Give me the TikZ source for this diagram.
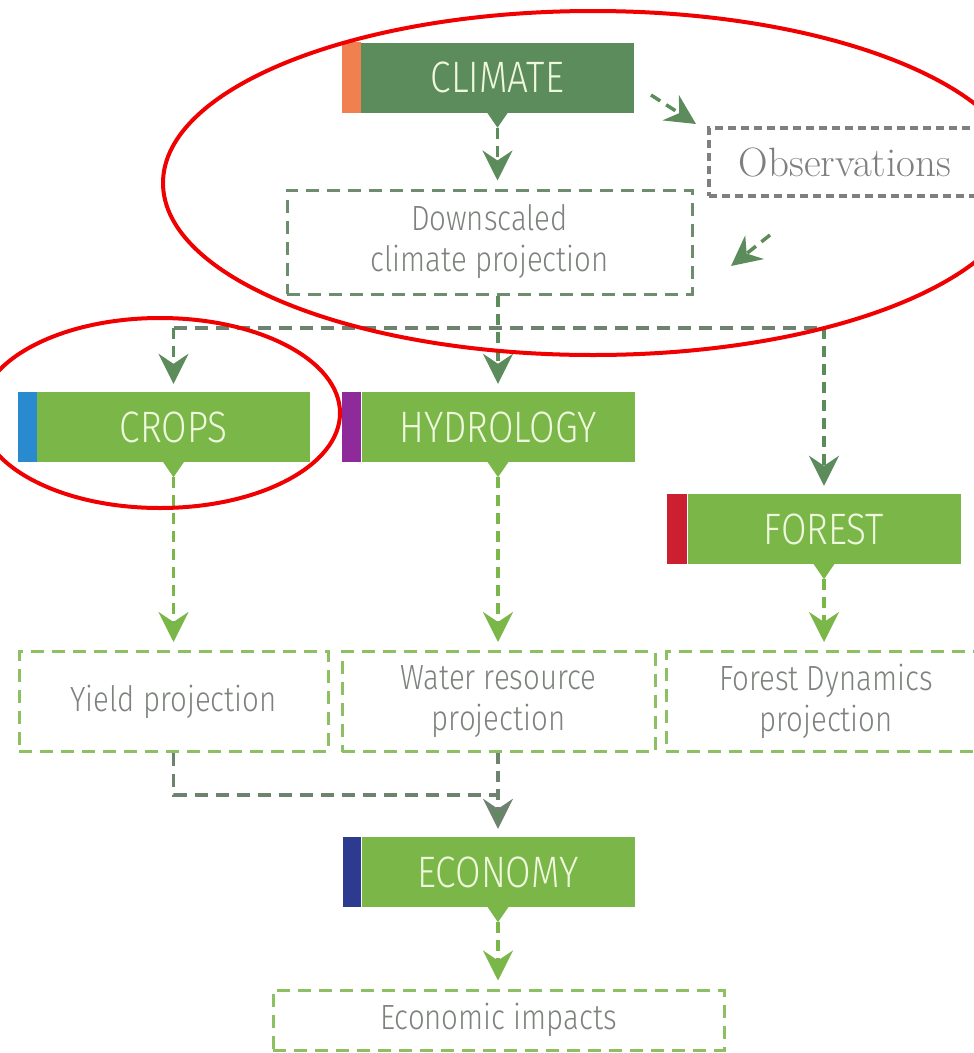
\documentclass[tikz,border=0pt]{standalone}
\usepackage{fontspec}
\newfontfamily\lab{Fira Sans Light}[FakeStretch=0.84]
\usetikzlibrary{arrows.meta,calc}
\definecolor{darkg}{HTML}{5C8B5C}
\definecolor{lightg}{HTML}{7AB648}
\definecolor{hdrtext}{HTML}{EEF8DC}
\definecolor{boxgray}{HTML}{6E8C6E}
\definecolor{boxlight}{HTML}{8CC063}
\definecolor{txtgray}{HTML}{7D827D}
\definecolor{obsgray}{HTML}{7F7F7F}
\definecolor{linegray}{HTML}{6E8270}
\definecolor{cOrange}{HTML}{F08050}
\definecolor{cBlue}{HTML}{2A8AD0}
\definecolor{cPurple}{HTML}{8E2A9A}
\definecolor{cRed}{HTML}{CC2030}
\definecolor{cNavy}{HTML}{2C3A90}
\definecolor{ringred}{HTML}{F00000}
\begin{document}
\begin{tikzpicture}[x=1pt,y=-1pt,
  hdr/.style={fill=#1, minimum width=273, minimum height=70, inner sep=0,
    text=hdrtext, font=\lab\fontsize{44}{48}\selectfont},
  outbox/.style={draw=#1, line width=3, dash pattern=on 13 off 8, minimum height=100,
    inner sep=0, align=center, text=txtgray, font=\lab\fontsize{35}{41}\selectfont},
  obsbox/.style={draw=obsgray, line width=4, dash pattern=on 8 off 5, minimum width=272,
    minimum height=68, inner sep=0, text=obsgray, font=\fontsize{41}{44}\selectfont},
  gline/.style={draw=linegray, line width=3.5, dash pattern=on 13 off 8},
  darr/.style={draw=darkg, line width=3.5, dash pattern=on 11 off 7,
    -{Stealth[length=30, width=30, inset=10, fill=darkg]}, shorten >=8},
  larr/.style={draw=lightg, line width=3.5, dash pattern=on 11 off 7,
    -{Stealth[length=30, width=30, inset=10, fill=lightg]}, shorten >=8},
  ring/.style={draw=ringred, line width=4},
]
\useasboundingbox[fill=white] (0,0) rectangle (974,1053);
\clip (0,0) rectangle (974,1053);

% header boxes
\node[hdr=darkg]  (climate) at (497.5,77.5) {CLIMATE};
\node[hdr=lightg] (crops)   at (173.5,427)  {CROPS};
\node[hdr=lightg] (hydro)   at (498,427)    {HYDROLOGY};
\node[hdr=lightg] (forest)  at (824,529)    {FOREST};
\node[hdr=lightg] (economy) at (498,872)    {ECONOMY};

% colour stripes
\fill[cOrange] (climate.north west) rectangle ([xshift=-19pt]climate.south west);
\fill[cBlue]   (crops.north west)   rectangle ([xshift=-19pt]crops.south west);
\fill[cPurple] (hydro.north west)   rectangle ([xshift=-19pt]hydro.south west);
\fill[cRed]    (forest.north west)  rectangle ([xshift=-20pt]forest.south west);
\fill[cNavy]   (economy.north west) rectangle ([xshift=-18pt]economy.south west);

% pointers
\foreach \n/\c in {climate/darkg, crops/lightg, hydro/lightg, forest/lightg, economy/lightg}{
  \fill[\c] ($(\n.south)+(-11,-1)$) -- ($(\n.south)+(11,-1)$) -- ($(\n.south)+(0,15)$) -- cycle;
  \coordinate (\n-p) at ($(\n.south)+(0,15)$);
}

% output boxes
\node[outbox=boxgray, minimum width=405, minimum height=104] (down) at (489.5,242)
  {Downscaled\\climate projection};
\node[obsbox] (obs) at (845,162) {Observations};
\node[outbox=boxlight, minimum width=309] (yield) at (173.5,701.5) {Yield projection};
\node[outbox=boxlight, minimum width=313] (water) at (498.5,701.5) {Water resource\\projection};
\node[outbox=boxlight, minimum width=320] (fdyn)  at (826,701.5) {Forest Dynamics\\projection};
\node[outbox=boxlight, minimum width=451, minimum height=60] (impacts) at (498.5,1020) {Economic impacts};

% climate to downscaled / observations
\draw[darr] (climate-p) -- (climate-p |- down.north);
\coordinate (o1) at (651,95);
\coordinate (o2) at (696,124);
\draw[darr, shorten >=0] (o1) -- (o2);
\coordinate (o3) at (770,235);
\coordinate (o4) at (731,266);
\draw[darr, shorten >=0] (o3) -- (o4);

% downscaled to sectors
\coordinate (j1) at (498,328);
\draw[gline] (crops.north |- j1) -- (forest.north |- j1);
\draw[darr] (hydro.north |- down.south) -- (hydro.north);
\draw[darr] (crops.north |- j1) -- (crops.north);
\draw[darr] (forest.north |- j1) -- (forest.north);

% sectors to projections
\draw[larr] (crops-p) -- (crops-p |- yield.north);
\draw[larr] (hydro-p) -- (hydro-p |- water.north);
\draw[larr] (forest-p) -- (forest-p |- fdyn.north);

% projections to economy
\coordinate (j2) at (498,795);
\draw[gline] (yield.south) |- (j2);
\draw[darr, draw=linegray] (economy.north |- water.south) -- (economy.north);
\draw[larr] (economy-p) -- (economy-p |- impacts.north);

% red rings
\draw[ring] (593,183) ellipse [x radius=430, y radius=172];
\draw[ring] (160,413) ellipse [x radius=180, y radius=95];
\end{tikzpicture}
\end{document}
